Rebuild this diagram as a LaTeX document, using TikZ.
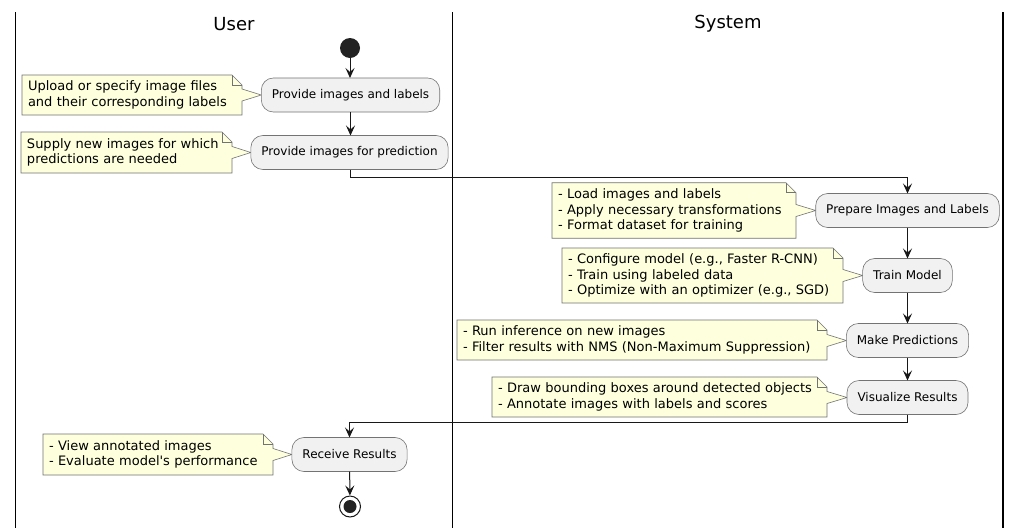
\documentclass[tikz,border=0pt]{standalone}
\usepackage{fontspec}
\setmainfont{DejaVu Sans}
\usetikzlibrary{arrows.meta,calc,backgrounds}
\definecolor{notefill}{HTML}{FEFFDD}
\definecolor{actfill}{HTML}{F1F1F1}
\definecolor{linec}{HTML}{181818}
\definecolor{startc}{HTML}{222222}
\newcommand{\drawnote}[2]{%
  \begin{scope}[on background layer]
  \draw[noteline] (#1.south west) -- (#1.north west) -- ($(#1.north east)+(-10,0)$) -- ($(#1.north east)+(0,10)$)
    -- ($(#1.east |- #2.west)+(0,-6)$) -- (#2.west) -- ($(#1.east |- #2.west)+(0,6)$) -- (#1.south east) -- cycle;
  \draw[noteline,fill=none] ($(#1.north east)+(-10,0)$) -- ($(#1.north east)+(-10,10)$) -- ($(#1.north east)+(0,10)$);
  \end{scope}}
\begin{document}
\begin{tikzpicture}[x=1pt,y=-1pt,
  act/.style={rectangle, rounded corners=12pt, draw=black!55, line width=0.6pt, fill=actfill,
    minimum height=34pt, inner xsep=10.5pt, inner ysep=0pt, outer sep=0pt, font=\fontsize{12}{14}\selectfont},
  notebox/.style={rectangle, inner xsep=6pt, inner ysep=0pt, outer sep=0pt, align=left,
    font=\fontsize{13}{15.2}\selectfont},
  noteline/.style={draw=black!55, line width=0.6pt, fill=notefill},
  flow/.style={draw=linec, line width=1pt, -{Stealth[length=10pt,width=9pt,inset=4pt]}},
  lane/.style={line width=1.5pt, draw=black},
  title/.style={font=\fontsize{18}{21}\selectfont}]
\useasboundingbox (0,0) rectangle (1022,528);
\begin{scope}[on background layer]
\fill[white] (0,0) rectangle (1022,528);
\end{scope}

% swimlanes
\coordinate (l1t) at (15.5,12); \coordinate (l1b) at (15.5,528);
\coordinate (l2t) at (452.5,12); \coordinate (l2b) at (452.5,528);
\coordinate (l3t) at (1003,12); \coordinate (l3b) at (1003,528);
\draw[lane] (l1t) -- (l1b);
\draw[lane] (l2t) -- (l2b);
\draw[lane] (l3t) -- (l3b);
\node[title] (tuser) at (234,24) {User};
\node[title] (tsys) at (728,24) {System};

% start / end
\node[circle, fill=startc, minimum size=20pt, inner sep=0pt] (start) at (350,48) {};
\node[circle, draw=linec, line width=1pt, fill=white, minimum size=21pt, inner sep=0pt] (stop) at (350,506.5) {};
\node[circle, fill=startc, minimum size=13pt, inner sep=0pt] (stopin) at (350,506.5) {};

% activities
\node[act] (a1) at (350.5,95) {Provide images and labels};
\node[act] (a2) at (349.5,152.5) {Provide images for prediction};
\node[act] (p) at (907.5,210.5) {Prepare Images and Labels};
\node[act] (t) at (907.5,275.5) {Train Model};
\node[act] (m) at (907.5,340.5) {Make Predictions};
\node[act] (v) at (907.5,397.5) {Visualize Results};
\node[act] (r) at (349.5,454.5) {Receive Results};

% notes
\node[notebox, minimum width=220pt, minimum height=40pt, text width=208pt] (n1) at (132,95)
  {Upload or specify image files\\and their corresponding labels};
\node[notebox, minimum width=211pt, minimum height=41pt, text width=199pt] (n2) at (126.5,152.5)
  {Supply new images for which\\predictions are needed};
\node[notebox, minimum width=244pt, minimum height=55.5pt, text width=232pt] (np) at (674,210.5)
  {- Load images and labels\\- Apply necessary transformations\\- Format dataset for training};
\node[notebox, minimum width=281pt, minimum height=55pt, text width=269pt] (nt) at (702.5,275.5)
  {- Configure model (e.g., Faster R-CNN)\\- Train using labeled data\\- Optimize with an optimizer (e.g., SGD)};
\node[notebox, minimum width=370pt, minimum height=40pt, text width=358pt] (nm) at (642,340)
  {- Run inference on new images\\- Filter results with NMS (Non-Maximum Suppression)};
\node[notebox, minimum width=335pt, minimum height=40pt, text width=323pt] (nv) at (659.5,397)
  {- Draw bounding boxes around detected objects\\- Annotate images with labels and scores};
\node[notebox, minimum width=230pt, minimum height=41pt, text width=218pt] (nr) at (158,454.5)
  {- View annotated images\\- Evaluate model\textquotesingle s performance};
\drawnote{n1}{a1}
\drawnote{n2}{a2}
\drawnote{np}{p}
\drawnote{nt}{t}
\drawnote{nm}{m}
\drawnote{nv}{v}
\drawnote{nr}{r}

% flows
\coordinate (j1) at (350,177);
\coordinate (j2) at (907.5,422.5);
\draw[flow] (start) -- (start |- a1.north);
\draw[flow] (a1) -- (a1.south |- a2.north);
\draw[flow] (a2.south -| j1) -- (j1) -- (j1 -| p.north) -- (p.north);
\draw[flow] (p) -- (t);
\draw[flow] (t) -- (m);
\draw[flow] (m) -- (v);
\draw[flow] (v.south) -- (j2) -- (j2 -| r.north) -- (r.north);
\draw[flow] (r) -- (stop);
\end{tikzpicture}
\end{document}
